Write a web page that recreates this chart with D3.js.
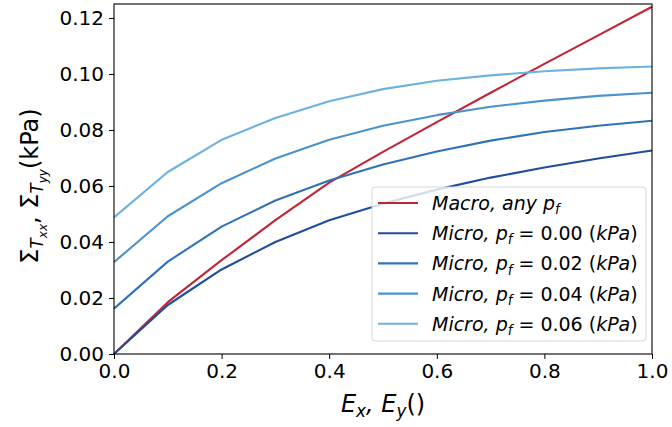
<!DOCTYPE html>
<html>
<head>
<meta charset="utf-8">
<script src="https://cdn.jsdelivr.net/npm/d3@7"></script>
<style>
  html, body { margin: 0; padding: 0; background: #fff; }
  svg { display: block; }
  text { font-family: "DejaVu Sans", sans-serif; fill: #000; white-space: pre; }
</style>
</head>
<body>
<svg id="chart" width="672" height="427"></svg>
<script>
// ---- data ----
const strain = [0.0, 0.1, 0.2, 0.3, 0.4, 0.5, 0.6, 0.7, 0.8, 0.9, 1.0];
const macro  = [0.0, 0.0185, 0.0335, 0.0478, 0.0612, 0.0722, 0.0828, 0.0933, 0.1036, 0.1138, 0.1240];
const micro000 = [0.0, 0.0175, 0.0302, 0.0400, 0.0478, 0.0537, 0.0587, 0.0630, 0.0666, 0.0698, 0.0727];
const micro002 = [0.0162, 0.0330, 0.0455, 0.0548, 0.0620, 0.0677, 0.0723, 0.0762, 0.0793, 0.0815, 0.0833];
const micro004 = [0.0328, 0.0492, 0.0610, 0.0698, 0.0765, 0.0815, 0.0853, 0.0883, 0.0905, 0.0922, 0.0933];
const micro006 = [0.0488, 0.0650, 0.0765, 0.0843, 0.0903, 0.0946, 0.0976, 0.0995, 0.1010, 0.1020, 0.1027];
const pfLabels = ["0.00", "0.02", "0.04", "0.06"];
const xTicks = [0.0, 0.2, 0.4, 0.6, 0.8, 1.0];
const yTicks = [0.00, 0.02, 0.04, 0.06, 0.08, 0.10, 0.12];

const series = [
  { values: macro,    color: "#bf2535", label: "macro" },
  { values: micro000, color: "#1f4f9c", label: pfLabels[0] },
  { values: micro002, color: "#2f72ba", label: pfLabels[1] },
  { values: micro004, color: "#4a93cc", label: pfLabels[2] },
  { values: micro006, color: "#6eb1de", label: pfLabels[3] }
];

// ---- layout ----
const L = 114, R = 652, T = 4, B = 354;
const svg = d3.select("#chart");
const x = d3.scaleLinear().domain([0, 1]).range([L, R]);
const y = d3.scaleLinear().domain([0, 0.125]).range([B, T]);

// lines
const line = d3.line().x((d, i) => x(strain[i])).y(d => y(d));
svg.append("g").selectAll("path").data(series).join("path")
  .attr("d", d => line(d.values))
  .attr("fill", "none")
  .attr("stroke", d => d.color)
  .attr("stroke-width", 2.1)
  .attr("stroke-linejoin", "round");

// axes
const xAxis = d3.axisBottom(x).tickValues(xTicks).tickFormat(d3.format(".1f")).tickSize(5).tickPadding(5);
const yAxis = d3.axisLeft(y).tickValues(yTicks).tickFormat(d3.format(".2f")).tickSize(5).tickPadding(5);
const gx = svg.append("g").attr("transform", `translate(0,${B})`).call(xAxis);
const gy = svg.append("g").attr("transform", `translate(${L},0)`).call(yAxis);
[gx, gy].forEach(g => {
  g.select(".domain").remove();
  g.selectAll(".tick line").attr("stroke", "#000").attr("stroke-width", 1);
  g.selectAll(".tick text").attr("font-family", "DejaVu Sans").attr("font-size", 20).attr("fill", "#000");
});

// frame
svg.append("rect").attr("x", L).attr("y", T).attr("width", R - L).attr("height", B - T)
  .attr("fill", "none").attr("stroke", "#000").attr("stroke-width", 1.1);

// rich text helper: segments {t, it, sub, subsub}
function rich(sel, segs, base) {
  let shift = 0;
  segs.forEach(s => {
    let size = base, target = 0;
    if (s.sub) { size = base * 0.7; target = base * 0.22; }
    if (s.subsub) { size = base * 0.5; target = base * 0.36; }
    sel.append("tspan").text(s.t)
      .attr("font-size", size)
      .attr("font-style", s.it ? "italic" : "normal")
      .attr("dy", target - shift);
    shift = target;
  });
}

// x label
const xl = svg.append("text").attr("x", 383).attr("y", 412).attr("text-anchor", "middle");
rich(xl, [
  {t: "E", it: true}, {t: "x", it: true, sub: true}, {t: ", ", it: true},
  {t: "E", it: true}, {t: "y", it: true, sub: true}, {t: "()", it: false}
], 24);

// y label
const yl = svg.append("text").attr("transform", "translate(38,186) rotate(-90)").attr("text-anchor", "middle");
rich(yl, [
  {t: "Σ", it: false}, {t: "T", it: true, sub: true}, {t: "xx", it: true, subsub: true},
  {t: ", ", it: false},
  {t: "Σ", it: false}, {t: "T", it: true, sub: true}, {t: "yy", it: true, subsub: true},
  {t: "(kPa)", it: false}
], 24);

// legend
const lg = svg.append("g");
lg.append("rect").attr("x", 372).attr("y", 187).attr("width", 274).attr("height", 154)
  .attr("rx", 3).attr("fill", "#fff").attr("fill-opacity", 0.8)
  .attr("stroke", "#d6d6d6").attr("stroke-width", 1);
series.forEach((s, i) => {
  const cy = 203 + i * 30.2;
  lg.append("line").attr("x1", 378).attr("x2", 418).attr("y1", cy).attr("y2", cy)
    .attr("stroke", s.color).attr("stroke-width", 2.1);
  const t = lg.append("text").attr("x", 432).attr("y", cy + 7);
  if (s.label === "macro") {
    rich(t, [{t: "Macro, any ", it: true}, {t: "p", it: true}, {t: "f", it: true, sub: true}], 19);
  } else {
    rich(t, [
      {t: "Micro, ", it: true}, {t: "p", it: true}, {t: "f", it: true, sub: true},
      {t: " = " + s.label + " ", it: false}, {t: "(", it: false}, {t: "kPa", it: true}, {t: ")", it: false}
    ], 19);
  }
});
</script>
</body>
</html>
